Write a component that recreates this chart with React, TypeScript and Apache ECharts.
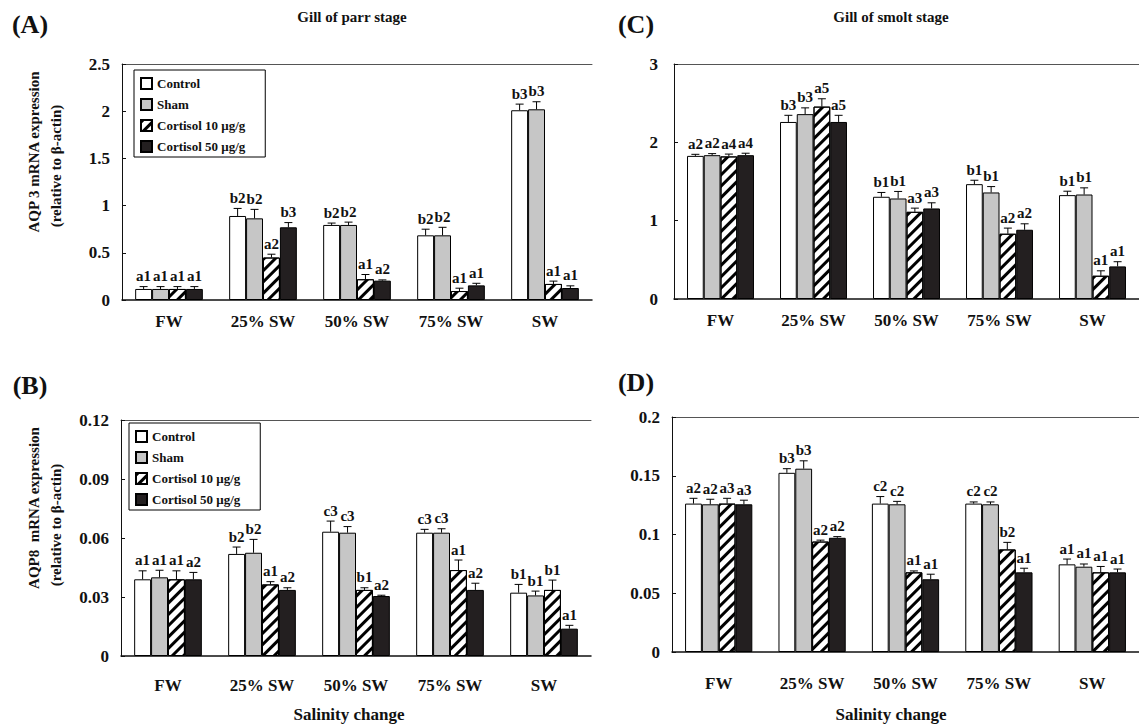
import React, { useEffect, useRef } from "react";
import * as echarts from "echarts";

const FONT = '"Liberation Serif", "Times New Roman", serif';

const categories = ["FW", "25% SW", "50% SW", "75% SW", "SW"];
const groupNames = ["Control", "Sham", "Cortisol 10 μg/g", "Cortisol 50 μg/g"];

// Panel A: AQP3, gill of parr stage
const aControl = [0.117, 0.89, 0.795, 0.685, 2.01];
const aControlErr = [0.025, 0.08, 0.02, 0.065, 0.065];
const aSham = [0.117, 0.865, 0.795, 0.685, 2.02];
const aShamErr = [0.025, 0.095, 0.03, 0.085, 0.08];
const aC10 = [0.117, 0.45, 0.22, 0.095, 0.17];
const aC10Err = [0.025, 0.035, 0.05, 0.03, 0.03];
const aC50 = [0.117, 0.77, 0.205, 0.155, 0.127];
const aC50Err = [0.025, 0.05, 0.008, 0.022, 0.023];
const aLabControl = ["a1", "b2", "b2", "b2", "b3"];
const aLabSham = ["a1", "b2", "b2", "b2", "b3"];
const aLabC10 = ["a1", "a2", "a1", "a1", "a1"];
const aLabC50 = ["a1", "b3", "a2", "a1", "a1"];

// Panel B: AQP8, gill of parr stage
const bControl = [0.039, 0.0519, 0.0632, 0.0627, 0.0322];
const bControlErr = [0.0043, 0.0035, 0.0054, 0.0017, 0.0042];
const bSham = [0.04, 0.0525, 0.0627, 0.0627, 0.0308];
const bShamErr = [0.0036, 0.0068, 0.0031, 0.002, 0.0022];
const bC10 = [0.039, 0.0364, 0.0336, 0.0437, 0.0336];
const bC10Err = [0.0043, 0.0014, 0.0011, 0.0051, 0.005];
const bC50 = [0.039, 0.0336, 0.0305, 0.0336, 0.0139];
const bC50Err = [0.0035, 0.0011, 0.0004, 0.0034, 0.0017];
const bLabControl = ["a1", "b2", "c3", "c3", "b1"];
const bLabSham = ["a1", "b2", "c3", "c3", "b1"];
const bLabC10 = ["a1", "a1", "b1", "a1", "b1"];
const bLabC50 = ["a2", "a2", "a2", "a2", "a1"];

// Panel C: AQP3, gill of smolt stage
const cControl = [1.827, 2.26, 1.305, 1.466, 1.326];
const cControlErr = [0.02, 0.085, 0.055, 0.05, 0.05];
const cSham = [1.836, 2.36, 1.283, 1.36, 1.334];
const cShamErr = [0.02, 0.08, 0.09, 0.075, 0.085];
const cC10 = [1.82, 2.456, 1.113, 0.833, 0.297];
const cC10Err = [0.03, 0.1, 0.047, 0.072, 0.063];
const cC50 = [1.836, 2.26, 1.156, 0.884, 0.416];
const cC50Err = [0.025, 0.085, 0.072, 0.076, 0.06];
const cLabControl = ["a2", "b3", "b1", "b1", "b1"];
const cLabSham = ["a2", "b3", "b1", "b1", "b1"];
const cLabC10 = ["a4", "a5", "a3", "a2", "a1"];
const cLabC50 = ["a4", "a5", "a3", "a2", "a1"];

// Panel D: AQP8, gill of smolt stage
const dControl = [0.1263, 0.1525, 0.1263, 0.1263, 0.0746];
const dControlErr = [0.0045, 0.0035, 0.006, 0.0014, 0.0045];
const dSham = [0.1257, 0.156, 0.1257, 0.1257, 0.0726];
const dShamErr = [0.0043, 0.0067, 0.0025, 0.002, 0.0023];
const dC10 = [0.1263, 0.094, 0.0678, 0.0873, 0.0678];
const dC10Err = [0.0045, 0.0012, 0.0012, 0.006, 0.005];
const dC50 = [0.1257, 0.0972, 0.0619, 0.0678, 0.0678];
const dC50Err = [0.0035, 0.001, 0.0043, 0.0035, 0.0028];
const dLabControl = ["a2", "b3", "c2", "c2", "a1"];
const dLabSham = ["a2", "b3", "c2", "c2", "a1"];
const dLabC10 = ["a3", "a2", "a1", "b2", "a1"];
const dLabC50 = ["a3", "a2", "a1", "a1", "a1"];

const BAR_GAP = 0.28;

const hatchDecal = {
  symbol: "rect",
  symbolSize: 1,
  dashArrayX: [1, 0],
  dashArrayY: [3, 5],
  rotation: -Math.PI / 4,
  color: "#000",
};

const barStyles = [
  { color: "#ffffff", borderColor: "#000", borderWidth: 1 },
  { color: "#c6c6c6", borderColor: "#000", borderWidth: 1 },
  { color: "#ffffff", borderColor: "#000", borderWidth: 1, decal: hatchDecal },
  { color: "#231f20", borderColor: "#000", borderWidth: 1 },
];

function panelSeries(
  g: number,
  values: number[][],
  errs: number[][],
  labels: string[][]
) {
  const series: any[] = values.map((vals, s) => ({
    type: "bar",
    name: groupNames[s],
    xAxisIndex: g * 2,
    yAxisIndex: g,
    data: vals,
    barGap: "0%",
    barCategoryGap: BAR_GAP * 100 + "%",
    itemStyle: barStyles[s],
    emphasis: { disabled: true },
  }));
  const data: number[][] = [];
  const flatLabels: string[] = [];
  values.forEach((vals, s) =>
    vals.forEach((v, c) => {
      data.push([c, v, errs[s][c], s]);
      flatLabels.push(labels[s][c]);
    })
  );
  series.push({
    type: "custom",
    xAxisIndex: g * 2,
    yAxisIndex: g,
    clip: false,
    z: 5,
    encode: { x: 0, y: 1 },
    data,
    renderItem: (params: any, api: any) => {
      const c = api.value(0);
      const v = api.value(1);
      const e = api.value(2);
      const s = api.value(3);
      const catW = api.size([1, 0])[0];
      const bw = (catW * (1 - BAR_GAP)) / 4;
      const cx = api.coord([c, 0])[0] - 2 * bw + (s + 0.5) * bw;
      const y0 = api.coord([c, v])[1];
      const y1 = api.coord([c, v + e])[1];
      const st = { stroke: "#000", lineWidth: 1 };
      return {
        type: "group",
        children: [
          { type: "line", shape: { x1: cx, y1: y0, x2: cx, y2: y1 }, style: st },
          { type: "line", shape: { x1: cx - 4, y1: y1, x2: cx + 4, y2: y1 }, style: st },
          {
            type: "text",
            x: cx,
            y: y1 - 3,
            style: {
              text: flatLabels[params.dataIndex],
              fill: "#111",
              fontFamily: FONT,
              fontWeight: "bold",
              fontSize: 15,
              align: "center",
              verticalAlign: "bottom",
            },
          },
        ],
      };
    },
  });
  return series;
}

const grids = [
  { left: 122, top: 64, width: 470, height: 236 },
  { left: 121, top: 420, width: 470, height: 236 },
  { left: 674, top: 64, width: 470, height: 235 },
  { left: 672, top: 417, width: 470, height: 235 },
];

const yRanges = [
  { max: 2.5, interval: 0.5, margin: 12 },
  { max: 0.12, interval: 0.03, margin: 12 },
  { max: 3, interval: 1, margin: 16 },
  { max: 0.2, interval: 0.05, margin: 12 },
];

const xLabelMargins = [13, 21, 13, 23];

export default function App() {
  const ref = useRef<HTMLDivElement>(null);
  useEffect(() => {
    if (!ref.current) return;
    const chart = echarts.init(ref.current, null, { renderer: "svg" });
    const xAxes: any[] = [];
    grids.forEach((_, g) => {
      xAxes.push({
        type: "category",
        gridIndex: g,
        data: categories,
        position: "bottom",
        axisLine: { lineStyle: { color: "#111", width: 1.5 } },
        axisTick: { inside: true, length: 5, lineStyle: { color: "#333" } },
        axisLabel: {
          color: "#111",
          fontFamily: FONT,
          fontWeight: "bold",
          fontSize: 17,
          margin: xLabelMargins[g],
        },
      });
      xAxes.push({
        type: "category",
        gridIndex: g,
        data: categories,
        position: "top",
        axisLine: { lineStyle: { color: "#555", width: 1 } },
        axisTick: { show: false },
        axisLabel: { show: false },
      });
    });
    const yAxes = yRanges.map((r, g) => ({
      type: "value",
      gridIndex: g,
      min: 0,
      max: r.max,
      interval: r.interval,
      splitLine: { show: false },
      axisLine: { show: true, lineStyle: { color: "#111", width: 1 } },
      axisTick: { show: true, inside: true, length: 4, lineStyle: { color: "#111" } },
      axisLabel: {
        color: "#111",
        fontFamily: FONT,
        fontWeight: "bold",
        fontSize: 17,
        margin: r.margin,
      },
    }));

    const series = [
      ...panelSeries(0, [aControl, aSham, aC10, aC50], [aControlErr, aShamErr, aC10Err, aC50Err], [aLabControl, aLabSham, aLabC10, aLabC50]),
      ...panelSeries(1, [bControl, bSham, bC10, bC50], [bControlErr, bShamErr, bC10Err, bC50Err], [bLabControl, bLabSham, bLabC10, bLabC50]),
      ...panelSeries(2, [cControl, cSham, cC10, cC50], [cControlErr, cShamErr, cC10Err, cC50Err], [cLabControl, cLabSham, cLabC10, cLabC50]),
      ...panelSeries(3, [dControl, dSham, dC10, dC50], [dControlErr, dShamErr, dC10Err, dC50Err], [dLabControl, dLabSham, dLabC10, dLabC50]),
    ];

    const legendBase = {
      orient: "vertical",
      data: groupNames,
      icon: "rect",
      itemWidth: 11,
      itemHeight: 11,
      itemGap: 8,
      selectedMode: false,
      borderColor: "#000",
      borderWidth: 1,
      backgroundColor: "#fff",
      padding: [7, 20, 4, 6],
      textStyle: { fontFamily: FONT, fontWeight: "bold", fontSize: 13, color: "#111" },
    };

    const txt = (text: string, x: number, y: number, size: number, extra: any = {}) => ({
      type: "text",
      x,
      y,
      ...extra,
      style: {
        text,
        fill: "#111",
        fontFamily: FONT,
        fontWeight: "bold",
        fontSize: size,
        align: "center",
        verticalAlign: "middle",
      },
    });

    chart.setOption({
      animation: false,
      backgroundColor: "#fff",
      grid: grids,
      xAxis: xAxes,
      yAxis: yAxes,
      legend: [
        { ...legendBase, left: 134, top: 70 },
        { ...legendBase, left: 129, top: 423 },
      ],
      series,
      graphic: [
        txt("(A)", 30, 24, 26),
        txt("(B)", 30, 385, 26),
        txt("(C)", 636, 24, 26),
        txt("(D)", 636, 382, 26),
        txt("Gill of parr stage", 352, 17, 15),
        txt("Gill of smolt stage", 891, 17, 15),
        txt("AQP 3 mRNA expression", 34, 152, 15, { rotation: Math.PI / 2 }),
        txt("(relative to β-actin)", 56, 166, 15, { rotation: Math.PI / 2 }),
        txt("AQP8  mRNA expression", 34, 508, 15, { rotation: Math.PI / 2 }),
        txt("(relative to β-actin)", 56, 525, 15, { rotation: Math.PI / 2 }),
        txt("Salinity change", 349, 714, 17),
        txt("Salinity change", 891, 714, 17),
      ],
    });
    return () => chart.dispose();
  }, []);
  return (
    <div
      ref={ref}
      style={{ position: "fixed", left: 0, top: 0, width: 1139, height: 727 }}
    />
  );
}
